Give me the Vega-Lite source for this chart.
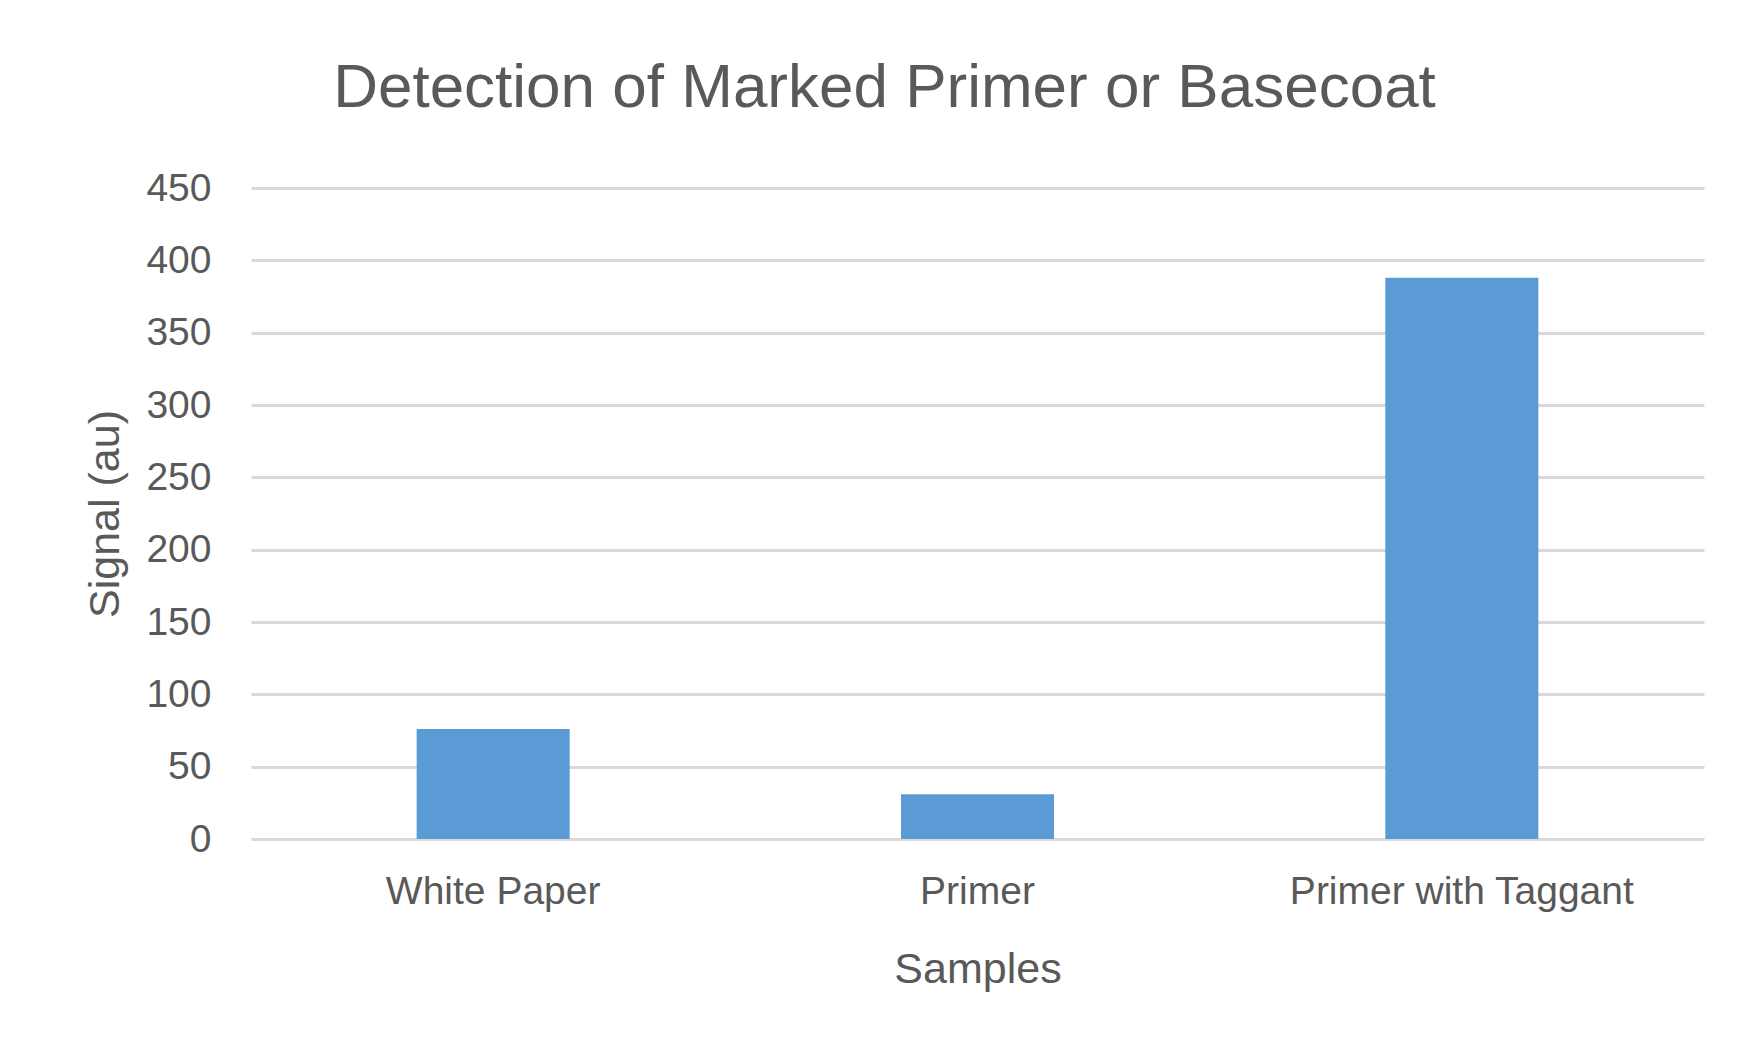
{
  "$schema": "https://vega.github.io/schema/vega-lite/v6.json",
  "autosize": "none",
  "width": 1453,
  "height": 651,
  "padding": {"left": 251, "top": 188, "right": 37, "bottom": 213},
  "background": "white",
  "data": {
    "values": [
      {"sample": "White Paper", "signal": 76},
      {"sample": "Primer", "signal": 31},
      {"sample": "Primer with Taggant", "signal": 388}
    ]
  },
  "title": {
    "text": "Detection of Marked Primer or Basecoat",
    "font": "Liberation Sans",
    "fontSize": 62,
    "fontWeight": "normal",
    "color": "#595959",
    "anchor": "middle",
    "dx": -93,
    "baseline": "alphabetic",
    "offset": 0
  },
  "mark": {"type": "bar", "color": "#5b9bd5"},
  "encoding": {
    "x": {
      "field": "sample",
      "type": "nominal",
      "sort": null,
      "scale": {"paddingInner": 0.684, "paddingOuter": 0.342},
      "axis": {
        "title": "Samples",
        "labelAngle": 0,
        "labelLimit": 0,
        "ticks": false,
        "domain": false,
        "labelPadding": 33,
        "titlePadding": 37,
        "labelFont": "Liberation Sans",
        "labelFontSize": 39,
        "labelColor": "#595959",
        "titleFont": "Liberation Sans",
        "titleFontSize": 43,
        "titleFontWeight": "normal",
        "titleColor": "#595959"
      }
    },
    "y": {
      "field": "signal",
      "type": "quantitative",
      "scale": {"domain": [0, 450]},
      "axis": {
        "title": "Signal (au)",
        "values": [0, 50, 100, 150, 200, 250, 300, 350, 400, 450],
        "ticks": false,
        "domain": false,
        "grid": true,
        "gridColor": "#d9d9d9",
        "gridWidth": 3,
        "labelPadding": 40,
        "titlePadding": 18,
        "labelFont": "Liberation Sans",
        "labelFontSize": 39,
        "labelColor": "#595959",
        "titleFont": "Liberation Sans",
        "titleFontSize": 43,
        "titleFontWeight": "normal",
        "titleColor": "#595959"
      }
    }
  },
  "config": {"view": {"stroke": null}}
}
